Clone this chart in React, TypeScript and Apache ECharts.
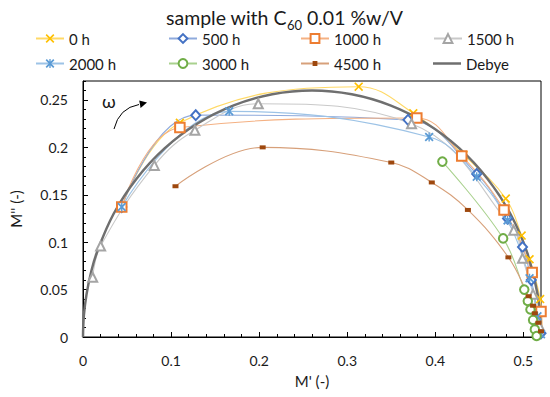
import React, { useEffect, useRef } from 'react';
import * as echarts from 'echarts';

const FONT = 'Lato, "Open Sans", sans-serif';
const TXT = '#1a1a1a';

const seriesNames = ['0 h', '500 h', '1000 h', '1500 h', '2000 h', '3000 h', '4500 h', 'Debye'];

const data0h = [[0.044, 0.137], [0.11, 0.226], [0.313, 0.264], [0.375, 0.236], [0.432, 0.192], [0.48, 0.146], [0.498, 0.107], [0.507, 0.082], [0.519, 0.04], [0.521, 0.01]];
const data500h = [[0.044, 0.137], [0.128, 0.234], [0.369, 0.229], [0.447, 0.172], [0.482, 0.125], [0.499, 0.095], [0.509, 0.06], [0.516, 0.025], [0.52, 0.004]];
const data1000h = [[0.044, 0.137], [0.11, 0.221], [0.379, 0.231], [0.43, 0.191], [0.478, 0.134], [0.51, 0.068], [0.52, 0.027], [0.521, 0.015], [0.521, 0.004]];
const data1500h = [[0.011, 0.063], [0.02, 0.096], [0.081, 0.181], [0.127, 0.218], [0.199, 0.246], [0.373, 0.225], [0.489, 0.1125], [0.499, 0.083], [0.511, 0.045], [0.518, 0.012]];
const data2000h = [[0.044, 0.137], [0.166, 0.238], [0.393, 0.211], [0.447, 0.169], [0.482, 0.123], [0.507, 0.062], [0.516, 0.022], [0.52, 0.003]];
const data3000h = [[0.408, 0.185], [0.477, 0.104], [0.501, 0.05], [0.505, 0.038], [0.508, 0.029], [0.511, 0.018], [0.513, 0.008], [0.515, 0.001]];
const data4500h = [[0.105, 0.159], [0.204, 0.2], [0.35, 0.184], [0.396, 0.163], [0.437, 0.134], [0.483, 0.084], [0.506, 0.043], [0.511, 0.033], [0.513, 0.025], [0.517, 0.015], [0.52, 0.006], [0.522, 0.001]];
const dataDebye = [[0, 0], [0.001, 0.0227], [0.004, 0.045], [0.0089, 0.0673], [0.0157, 0.0889], [0.0348, 0.13], [0.0608, 0.167], [0.0929, 0.1992], [0.13, 0.2252], [0.1711, 0.2443], [0.2149, 0.256], [0.26, 0.26], [0.3051, 0.256], [0.3489, 0.2443], [0.39, 0.2252], [0.4271, 0.1992], [0.4592, 0.167], [0.4852, 0.13], [0.5043, 0.0889], [0.5161, 0.0451], [0.52, 0]];

const xMax = 0.52;
const yMax = 0.27;
const xMajor = 0.1;
const xMinor = 0.02;
const yMajor = 0.05;
const yMinor = 0.01;

const X_PATH = 'path://M0,1.3 L1.3,0 L5,3.7 L8.7,0 L10,1.3 L6.3,5 L10,8.7 L8.7,10 L5,6.3 L1.3,10 L0,8.7 L3.7,5 Z';
const AST_PATH = 'path://M0,1.4 L1.4,0 L5,3.6 L8.6,0 L10,1.4 L6.4,5 L10,8.6 L8.6,10 L5,6.4 L1.4,10 L0,8.6 L3.6,5 Z M4.25,0 L5.75,0 L5.75,10 L4.25,10 Z';

function mk(name: string, data: number[][], color: string, lineColor: string, symbol: string, size: any, hollow: boolean) {
  return {
    name,
    type: 'line',
    data,
    smooth: 0.4,
    symbol,
    symbolSize: size,
    showSymbol: true,
    lineStyle: { color: lineColor, width: 1.1 },
    itemStyle: hollow ? { color, borderColor: color, borderWidth: 1.6 } : { color, borderWidth: 0 },
    emphasis: { disabled: true },
  };
}

export default function App() {
  const ref = useRef<HTMLDivElement>(null);
  useEffect(() => {
    const chart = echarts.init(ref.current!, null, { renderer: 'svg' });
    const legendCols = [35, 168, 300, 433];
    const legendRows = [31, 56];
    const option: any = {
      animation: false,
      backgroundColor: '#fff',
      title: {
        text: '{a|sample with C}{b|60}{a| 0.01 %w/V}',
        left: 166,
        top: 6,
        padding: 0,
        textStyle: {
          fontWeight: 'normal',
          rich: {
            a: { fontSize: 19.5, fontWeight: 'normal', fontFamily: FONT, color: TXT, lineHeight: 22, verticalAlign: 'middle' },
            b: { fontSize: 13, fontWeight: 'normal', fontFamily: FONT, color: TXT, lineHeight: 22, verticalAlign: 'bottom', padding: [0, 0, -3, 0] },
          },
        },
      },
      legend: seriesNames.map((n, i) => ({
        data: n === 'Debye' ? [{ name: n, icon: 'rect' }] : [n],
        left: legendCols[i % 4],
        top: legendRows[Math.floor(i / 4)],
        itemWidth: 28,
        itemHeight: n === '4500 h' ? 6 : n === 'Debye' ? 2.5 : 11,
        padding: 0,
        selectedMode: false,
        textStyle: { fontSize: 15, fontFamily: FONT, color: TXT },
      })),
      grid: { left: 80, right: 9, top: 81, bottom: 60, show: true, borderColor: '#000', borderWidth: 1 },
      xAxis: [
        {
          type: 'value', min: 0, max: xMax, interval: xMajor, position: 'bottom',
          name: "M' (-)", nameLocation: 'middle', nameGap: 36,
          nameTextStyle: { fontSize: 15, fontFamily: FONT, color: TXT },
          axisLine: { show: true, onZero: false, lineStyle: { color: '#000', width: 1 } },
          axisTick: { show: true, inside: true, length: 5, lineStyle: { color: '#000' } },
          axisLabel: { show: true, margin: 16, fontSize: 14, fontFamily: FONT, color: TXT, showMaxLabel: false },
          splitLine: { show: false },
        },
        {
          type: 'value', min: 0, max: xMax, interval: xMinor, position: 'bottom',
          axisLine: { show: false, onZero: false },
          axisTick: { show: true, inside: true, length: 3, lineStyle: { color: '#000' } },
          axisLabel: { show: false },
          splitLine: { show: false },
        },
      ],
      yAxis: [
        {
          type: 'value', min: 0, max: yMax, interval: yMajor, position: 'left',
          name: "M'' (-)", nameLocation: 'middle', nameGap: 60,
          nameTextStyle: { fontSize: 15, fontFamily: FONT, color: TXT },
          axisLine: { show: true, onZero: false, lineStyle: { color: '#000', width: 1 } },
          axisTick: { show: true, inside: true, length: 5, lineStyle: { color: '#000' } },
          axisLabel: { show: true, margin: 15, fontSize: 14, fontFamily: FONT, color: TXT, showMaxLabel: false },
          splitLine: { show: false },
        },
        {
          type: 'value', min: 0, max: yMax, interval: yMinor, position: 'left',
          axisLine: { show: false, onZero: false },
          axisTick: { show: true, inside: true, length: 3, lineStyle: { color: '#000' } },
          axisLabel: { show: false },
          splitLine: { show: false },
        },
      ],
      graphic: [
        { type: 'text', left: 102, top: 92, style: { text: 'ω', fontSize: 18, fontFamily: FONT, fill: TXT } },
        { type: 'bezierCurve', shape: { x1: 114, y1: 129, cpx1: 119, cpy1: 108, x2: 139, y2: 104.5 }, style: { stroke: '#000', lineWidth: 1, fill: null } },
        { type: 'polygon', shape: { points: [[147, 102.6], [139.2, 100.6], [140.6, 108]] }, style: { fill: '#000' } },
      ],
      series: [
        mk('0 h', data0h, '#FFC000', '#FFD966', X_PATH, 9, false),
        mk('500 h', data500h, '#4472C4', '#8FAADC', 'emptyDiamond', [9, 10], true),
        mk('1000 h', data1000h, '#ED7D31', '#F4B183', 'emptyRect', 9.5, true),
        mk('1500 h', data1500h, '#A5A5A5', '#C9C9C9', 'emptyTriangle', 9, true),
        mk('2000 h', data2000h, '#5B9BD5', '#9DC3E6', AST_PATH, 9, false),
        mk('3000 h', data3000h, '#70AD47', '#A9D18E', 'emptyCircle', 8.5, true),
        mk('4500 h', data4500h, '#9E480E', '#D7A07A', 'rect', [6, 4], false),
        {
          name: 'Debye', type: 'line', data: dataDebye, smooth: 0.4, symbol: 'none', showSymbol: false,
          lineStyle: { color: '#6f6f6f', width: 2.5 }, itemStyle: { color: '#6f6f6f' }, emphasis: { disabled: true },
        },
      ],
    };
    chart.setOption(option);
    return () => chart.dispose();
  }, []);
  return <div ref={ref} style={{ position: 'fixed', left: 0, top: 0, width: 550, height: 397 }} />;
}
